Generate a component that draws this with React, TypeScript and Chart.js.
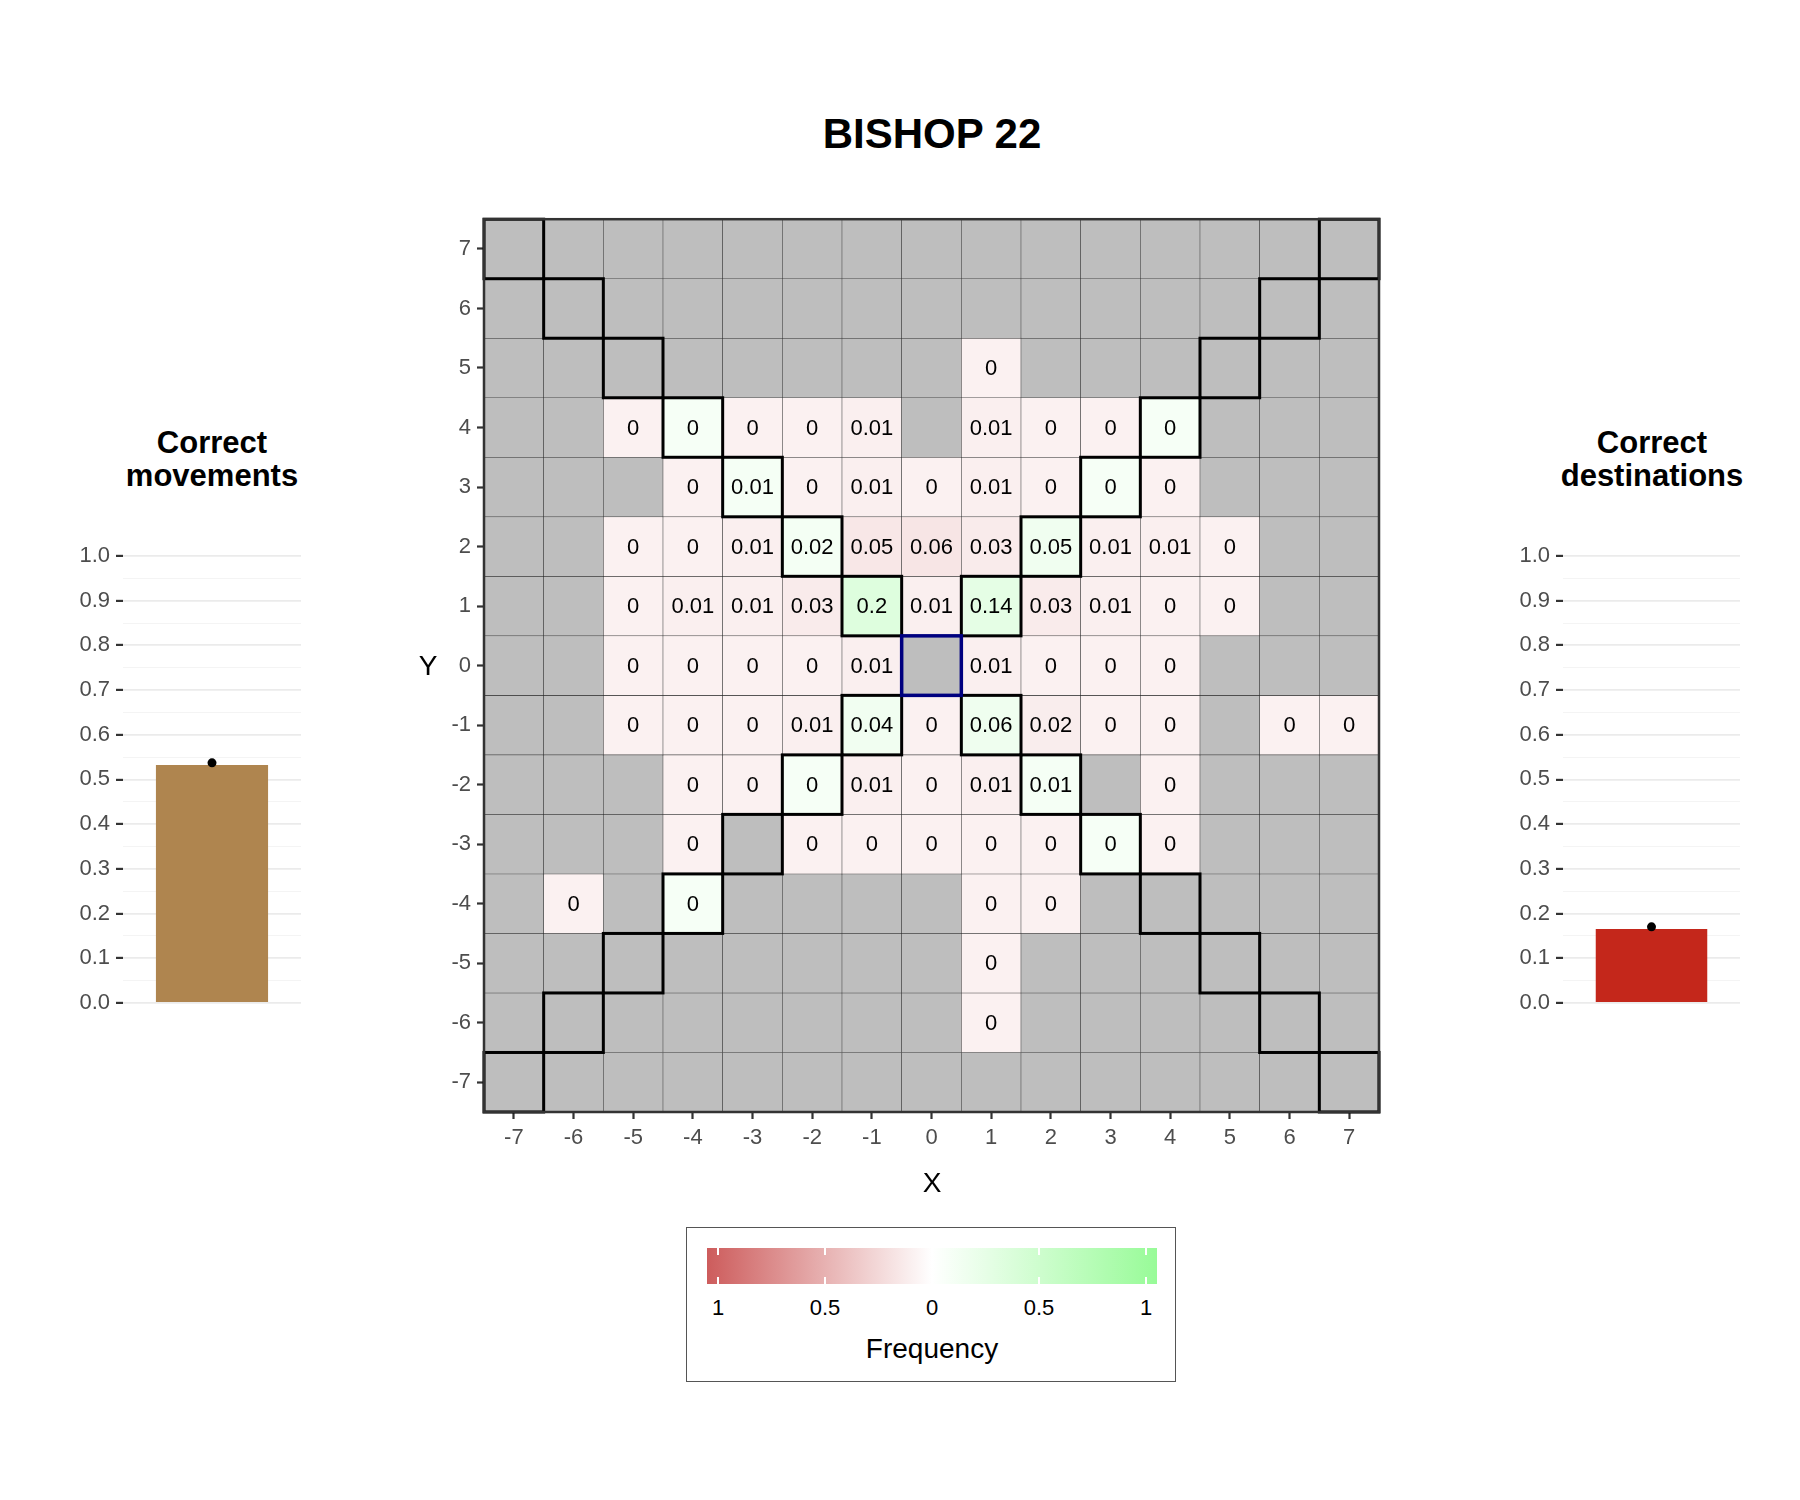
import React, { useEffect, useRef } from 'react';
import { Chart, registerables } from 'chart.js';

Chart.register(...registerables);

const TITLE = 'BISHOP 22';
const LEFT_TITLE = ['Correct', 'movements'];
const RIGHT_TITLE = ['Correct', 'destinations'];
const X_LABELS = ['-7', '-6', '-5', '-4', '-3', '-2', '-1', '0', '1', '2', '3', '4', '5', '6', '7'];
const X_VALUES = [-7, -6, -5, -4, -3, -2, -1, 0, 1, 2, 3, 4, 5, 6, 7];
const Y_VALUES = [7, 6, 5, 4, 3, 2, 1, 0, -1, -2, -3, -4, -5, -6, -7];
const Y_TICKS = [-7, -6, -5, -4, -3, -2, -1, 0, 1, 2, 3, 4, 5, 6, 7];

// Frequencies, rows y = 7 ... -7, columns x = -7 ... 7 (null = no answer, grey)
const N = null;
const ROW_P7 = [N, N, N, N, N, N, N, N, N, N, N, N, N, N, N];
const ROW_P6 = [N, N, N, N, N, N, N, N, N, N, N, N, N, N, N];
const ROW_P5 = [N, N, N, N, N, N, N, N, 0, N, N, N, N, N, N];
const ROW_P4 = [N, N, 0, 0, 0, 0, 0.01, N, 0.01, 0, 0, 0, N, N, N];
const ROW_P3 = [N, N, N, 0, 0.01, 0, 0.01, 0, 0.01, 0, 0, 0, N, N, N];
const ROW_P2 = [N, N, 0, 0, 0.01, 0.02, 0.05, 0.06, 0.03, 0.05, 0.01, 0.01, 0, N, N];
const ROW_P1 = [N, N, 0, 0.01, 0.01, 0.03, 0.2, 0.01, 0.14, 0.03, 0.01, 0, 0, N, N];
const ROW_00 = [N, N, 0, 0, 0, 0, 0.01, N, 0.01, 0, 0, 0, N, N, N];
const ROW_M1 = [N, N, 0, 0, 0, 0.01, 0.04, 0, 0.06, 0.02, 0, 0, N, 0, 0];
const ROW_M2 = [N, N, N, 0, 0, 0, 0.01, 0, 0.01, 0.01, N, 0, N, N, N];
const ROW_M3 = [N, N, N, 0, N, 0, 0, 0, 0, 0, 0, 0, N, N, N];
const ROW_M4 = [N, 0, N, 0, N, N, N, N, 0, 0, N, N, N, N, N];
const ROW_M5 = [N, N, N, N, N, N, N, N, 0, N, N, N, N, N, N];
const ROW_M6 = [N, N, N, N, N, N, N, N, 0, N, N, N, N, N, N];
const ROW_M7 = [N, N, N, N, N, N, N, N, N, N, N, N, N, N, N];
const ROWS = [ROW_P7, ROW_P6, ROW_P5, ROW_P4, ROW_P3, ROW_P2, ROW_P1, ROW_00, ROW_M1, ROW_M2, ROW_M3, ROW_M4, ROW_M5, ROW_M6, ROW_M7];

const MOVEMENTS_VALUE = 0.532;
const MOVEMENTS_POINT = 0.537;
const DESTINATIONS_VALUE = 0.165;
const DESTINATIONS_POINT = 0.17;

const LEGEND_TICKS = [-1, -0.5, 0, 0.5, 1];
const LEGEND_LABELS = ['1', '0.5', '0', '0.5', '1'];

const FONT = '"Liberation Sans", Arial, Helvetica, sans-serif';
const RED_END = [205, 92, 92];
const GREEN_END = [152, 251, 152];
const NA_COLOR = '#BEBEBE';

function isCorrect(x: number, y: number) {
  return x !== 0 && Math.abs(x) === Math.abs(y);
}

function cellColor(v: number | null, correct: boolean) {
  if (v === null) return NA_COLOR;
  const t = Math.min(1, 0.088 + 1.15 * v);
  const end = correct ? GREEN_END : RED_END;
  const c = end.map((e) => Math.round(255 + (e - 255) * t));
  return `rgb(${c[0]},${c[1]},${c[2]})`;
}

function fmt(v: number) {
  return String(Math.round(v * 100) / 100);
}

const cellLabels = {
  id: 'cellLabels',
  afterDatasetsDraw(chart: any) {
    const ctx = chart.ctx;
    ctx.save();
    ctx.font = `22px ${FONT}`;
    ctx.fillStyle = '#000';
    ctx.textAlign = 'center';
    ctx.textBaseline = 'middle';
    chart.data.datasets.forEach((ds: any, i: number) => {
      if (ds.rowIndex === undefined) return;
      const meta = chart.getDatasetMeta(i);
      const row = ROWS[ds.rowIndex];
      meta.data.forEach((el: any, j: number) => {
        const v = row[j];
        if (v === null) return;
        const { x, y, base } = el.getProps(['x', 'y', 'base'], true);
        ctx.fillText(fmt(v), x, (y + base) / 2 + 1);
      });
    });
    ctx.restore();
  },
};

// Outlines (correct destinations, start square) centred on the cell edges
const cellOutlines = {
  id: 'cellOutlines',
  afterDatasetsDraw(chart: any) {
    const ctx = chart.ctx;
    ctx.save();
    chart.data.datasets.forEach((ds: any, i: number) => {
      if (!ds.outlineColor) return;
      const meta = chart.getDatasetMeta(i);
      ctx.strokeStyle = ds.outlineColor;
      ctx.lineWidth = ds.outlineWidth;
      meta.data.forEach((el: any, j: number) => {
        if (ds.data[j] === null) return;
        const { x, y, base, width } = el.getProps(['x', 'y', 'base', 'width'], true);
        const top = Math.min(y, base);
        ctx.strokeRect(x - width / 2, top, width, Math.abs(base - y));
      });
    });
    ctx.restore();
  },
};

const panelBorder = {
  id: 'panelBorder',
  afterDraw(chart: any) {
    const { ctx, chartArea } = chart;
    ctx.save();
    ctx.strokeStyle = '#333333';
    ctx.lineWidth = 2.5;
    ctx.strokeRect(chartArea.left, chartArea.top, chartArea.right - chartArea.left, chartArea.bottom - chartArea.top);
    ctx.restore();
  },
};

function heatmapConfig(): any {
  const rowSets = Y_VALUES.map((y, i) => ({
    type: 'bar',
    rowIndex: i,
    data: X_VALUES.map(() => [y - 0.5, y + 0.5]),
    backgroundColor: ROWS[i].map((v, j) => cellColor(v, isCorrect(X_VALUES[j], y))),
    borderColor: 'rgba(40,40,40,0.8)',
    borderWidth: 0.6,
    borderSkipped: false,
    grouped: false,
    barPercentage: 1,
    categoryPercentage: 1,
    order: 2,
  }));
  const diagMain = {
    type: 'bar',
    data: X_VALUES.map((x) => (x === 0 ? null : [x - 0.5, x + 0.5])),
    backgroundColor: 'rgba(0,0,0,0)',
    borderWidth: 0,
    grouped: false,
    barPercentage: 1,
    categoryPercentage: 1,
    order: 1,
    outlineColor: '#000000',
    outlineWidth: 3,
  };
  const diagAnti = {
    ...diagMain,
    data: X_VALUES.map((x) => (x === 0 ? null : [-x - 0.5, -x + 0.5])),
  };
  const origin = {
    ...diagMain,
    data: X_VALUES.map((x) => (x === 0 ? [-0.5, 0.5] : null)),
    outlineColor: '#00007F',
    outlineWidth: 3.5,
    order: 0,
  };
  const tickFont = { family: FONT, size: 22 };
  return {
    type: 'bar',
    data: { labels: X_LABELS, datasets: [diagMain, diagAnti, origin, ...rowSets] },
    options: {
      animation: false,
      responsive: false,
      events: [],
      layout: { padding: { top: 17, right: 21, bottom: 0, left: 0 } },
      plugins: { legend: { display: false }, tooltip: { enabled: false }, title: { display: false } },
      scales: {
        x: {
          type: 'category',
          offset: true,
          afterFit: (s: any) => {
            s.height = 88;
          },
          grid: { drawOnChartArea: false, offset: false, drawTicks: true, tickLength: 7, tickColor: '#333333', tickWidth: 2.2 },
          border: { display: false },
          ticks: { color: '#4D4D4D', font: tickFont, padding: 6, maxRotation: 0, autoSkip: false },
        },
        y: {
          type: 'linear',
          min: -7.5,
          max: 7.5,
          afterBuildTicks: (s: any) => {
            s.ticks = Y_TICKS.map((v) => ({ value: v }));
          },
          afterFit: (s: any) => {
            s.width = 84;
          },
          grid: { drawOnChartArea: false, drawTicks: true, tickLength: 7, tickColor: '#333333', tickWidth: 2.2 },
          border: { display: false },
          ticks: { color: '#4D4D4D', font: tickFont, padding: 6, autoSkip: false, callback: (v: any) => String(v) },
        },
      },
    },
    plugins: [cellLabels, cellOutlines, panelBorder],
  };
}

function barConfig(value: number, point: number, color: string, rightPad: number): any {
  return {
    type: 'bar',
    data: {
      labels: [''],
      datasets: [
        { type: 'line', data: [point], showLine: false, pointRadius: 4.5, pointBackgroundColor: '#000', pointBorderWidth: 0, order: 0 },
        { type: 'bar', data: [value], backgroundColor: color, barPercentage: 0.63, categoryPercentage: 1, order: 1 },
      ],
    },
    options: {
      animation: false,
      responsive: false,
      events: [],
      layout: { padding: { top: 54, right: rightPad, bottom: 19, left: 0 } },
      plugins: { legend: { display: false }, tooltip: { enabled: false } },
      scales: {
        x: { display: false, offset: true },
        y: {
          min: 0,
          max: 1,
          afterFit: (s: any) => {
            s.width = 123;
          },
          ticks: {
            stepSize: 0.05,
            autoSkip: false,
            padding: 6,
            color: '#4D4D4D',
            font: { family: FONT, size: 22 },
            callback: (v: any, i: number) => (i % 2 === 0 ? Number(v).toFixed(1) : ''),
          },
          grid: {
            color: (c: any) => (c.index % 2 === 0 ? '#EBEBEB' : '#F3F3F3'),
            lineWidth: (c: any) => (c.index % 2 === 0 ? 1.8 : 0.9),
            tickColor: (c: any) => (c.index % 2 === 0 ? '#333333' : 'rgba(0,0,0,0)'),
            tickLength: 7,
            tickWidth: 2.2,
          },
          border: { display: false },
        },
      },
    },
  };
}

function ChartCanvas({ config, left, top, width, height }: any) {
  const ref = useRef<HTMLCanvasElement | null>(null);
  useEffect(() => {
    if (!ref.current) return;
    const chart = new Chart(ref.current, config());
    return () => chart.destroy();
  }, []);
  return (
    <canvas
      ref={ref}
      width={width}
      height={height}
      style={{ position: 'absolute', left, top, width, height }}
    />
  );
}

function Label({ text, cx, cy, size, bold, color }: any) {
  return (
    <div
      style={{
        position: 'absolute',
        left: cx - 300,
        width: 600,
        top: cy - 0.482 * size,
        fontSize: size,
        lineHeight: `${size}px`,
        fontWeight: bold ? 'bold' : 'normal',
        color: color || '#000',
        textAlign: 'center',
        whiteSpace: 'nowrap',
        fontFamily: FONT,
      }}
    >
      {text}
    </div>
  );
}

export default function App() {
  const legendCenter = 932;
  const legendUnit = 214;
  return (
    <div style={{ position: 'absolute', left: 0, top: 0, width: 1800, height: 1500, background: '#fff', fontFamily: FONT }}>
      <Label text={TITLE} cx={932} cy={133} size={42} bold />
      <Label text={LEFT_TITLE[0]} cx={212} cy={442} size={31} bold />
      <Label text={LEFT_TITLE[1]} cx={212} cy={474.5} size={31} bold />
      <Label text={RIGHT_TITLE[0]} cx={1652} cy={442} size={31} bold />
      <Label text={RIGHT_TITLE[1]} cx={1652} cy={474.5} size={31} bold />

      <ChartCanvas config={() => barConfig(MOVEMENTS_VALUE, MOVEMENTS_POINT, '#AF854F', 19)} left={0} top={502} width={320} height={520} />
      <ChartCanvas config={() => barConfig(DESTINATIONS_VALUE, DESTINATIONS_POINT, '#C4271B', 40)} left={1440} top={502} width={340} height={520} />
      <ChartCanvas config={heatmapConfig} left={400} top={200} width={1000} height={1000} />

      <Label text="Y" cx={428} cy={665} size={28} />
      <Label text="X" cx={932} cy={1182} size={28} />

      <div style={{ position: 'absolute', left: 686, top: 1227, width: 488, height: 153, border: '1.5px solid #555' }} />
      <div
        style={{
          position: 'absolute',
          left: 707,
          top: 1248,
          width: 450,
          height: 36,
          background: `linear-gradient(to right, rgb(${RED_END.join(',')}), #ffffff, rgb(${GREEN_END.join(',')}))`,
        }}
      />
      {LEGEND_TICKS.map((t, i) => (
        <React.Fragment key={i}>
          <div style={{ position: 'absolute', left: legendCenter + t * legendUnit - 1, top: 1248, width: 2, height: 7, background: '#fff' }} />
          <div style={{ position: 'absolute', left: legendCenter + t * legendUnit - 1, top: 1277, width: 2, height: 7, background: '#fff' }} />
          <Label text={LEGEND_LABELS[i]} cx={legendCenter + t * legendUnit} cy={1308} size={22} />
        </React.Fragment>
      ))}
      <Label text="Frequency" cx={932} cy={1348.5} size={28} />
    </div>
  );
}
